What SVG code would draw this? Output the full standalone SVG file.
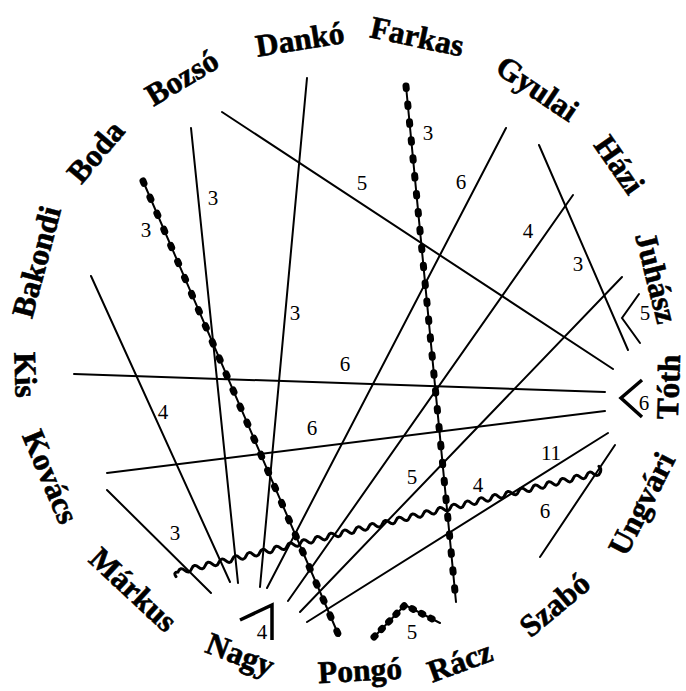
<svg xmlns="http://www.w3.org/2000/svg" width="686" height="691" viewBox="0 0 686 691">
<style>
.name{font-family:"Liberation Serif","Times New Roman",serif;font-weight:bold;font-size:31.5px;fill:#000;stroke:#000;stroke-width:0.6;text-anchor:middle}
.num{font-family:"Liberation Serif","Times New Roman",serif;font-size:21px;fill:#000;text-anchor:middle}
.e{stroke:#000;stroke-width:2;fill:none;stroke-linecap:round}
.b{stroke:#000;stroke-width:7;fill:none;stroke-linecap:round}
.m{stroke:#000;stroke-width:3.5;fill:none;stroke-linejoin:miter}
.w{stroke:#000;stroke-width:3;fill:none;stroke-linecap:round}
</style>
<rect width="686" height="691" fill="#fff"/>
<g id="nodes">
<g id="n-danko"><text class="name" transform="translate(300,40) rotate(-9)" y="10">Dankó</text></g>
<g id="n-farkas"><text class="name" transform="translate(417,37) rotate(12)" y="10">Farkas</text></g>
<g id="n-gyulai"><text class="name" transform="translate(537,89) rotate(34)" y="10">Gyulai</text></g>
<g id="n-hazi"><text class="name" transform="translate(619,165) rotate(55)" y="10">Házi</text></g>
<g id="n-juhasz"><text class="name" transform="translate(656,278) rotate(76)" y="10">Juhász</text></g>
<g id="n-toth"><text class="name" transform="translate(669,387) rotate(-88)" y="10">Tóth</text></g>
<g id="n-ungvari"><text class="name" transform="translate(642,504) rotate(-63)" y="10">Ungvári</text></g>
<g id="n-szabo"><text class="name" transform="translate(555,605) rotate(-40)" y="10">Szabó</text></g>
<g id="n-racz"><text class="name" transform="translate(460,662) rotate(-20)" y="10">Rácz</text></g>
<g id="n-pongo"><text class="name" transform="translate(360,671) rotate(-3)" y="10">Pongó</text></g>
<g id="n-nagy"><text class="name" transform="translate(240,655) rotate(21)" y="10">Nagy</text></g>
<g id="n-markus"><text class="name" transform="translate(133,590) rotate(43)" y="10">Márkus</text></g>
<g id="n-kovacs"><text class="name" transform="translate(50,477) rotate(67)" y="10">Kovács</text></g>
<g id="n-kis"><text class="name" transform="translate(25,375) rotate(88)" y="10">Kis</text></g>
<g id="n-bakondi"><text class="name" transform="translate(37,262) rotate(-75)" y="10">Bakondi</text></g>
<g id="n-boda"><text class="name" transform="translate(96,152) rotate(-50)" y="10">Boda</text></g>
<g id="n-bozso"><text class="name" transform="translate(182,78) rotate(-31)" y="10">Bozsó</text></g>
</g>
<g id="connectors">
<line class="e" x1="222" y1="112" x2="613" y2="369"/>
<line class="e" x1="307" y1="78" x2="260" y2="587"/>
<line class="e" x1="191" y1="128" x2="238" y2="583"/>
<line class="e" x1="143" y1="181" x2="339" y2="636"/>
<line class="b" x1="143" y1="181" x2="339" y2="636" stroke-dasharray="2.5 15"/>
<line class="e" x1="406" y1="86" x2="456" y2="602"/>
<line class="b" x1="406" y1="86" x2="456" y2="602" stroke-dasharray="2.5 15.5"/>
<line class="e" x1="506" y1="128" x2="267" y2="588"/>
<line class="e" x1="573" y1="195" x2="288" y2="601"/>
<line class="e" x1="622" y1="277" x2="300" y2="612"/>
<line class="e" x1="608" y1="433" x2="307" y2="622"/>
<line class="e" x1="615" y1="445" x2="540" y2="557"/>
<line class="e" x1="539" y1="145" x2="628" y2="350"/>
<line class="e" x1="74" y1="374" x2="605" y2="392"/>
<line class="e" x1="107" y1="473" x2="605" y2="411"/>
<line class="e" x1="91" y1="276" x2="230" y2="582"/>
<line class="e" x1="107" y1="490" x2="211" y2="593"/>
<path class="w" transform="translate(178,572) rotate(-13.3)" d="M-3 4 q-2 -5 3 -4 q3.5 -5 7 0 t7 0 t7 0 t7 0 t7 0 t7 0 t7 0 t7 0 t7 0 t7 0 t7 0 t7 0 t7 0 t7 0 t7 0 t7 0 t7 0 t7 0 t7 0 t7 0 t7 0 t7 0 t7 0 t7 0 t7 0 t7 0 t7 0 t7 0 t7 0 t7 0 t7 0 t7 0 t7 0 t7 0 t7 0 t7 0 t7 0 t7 0 t7 0 t7 0 t7 0 t7 0 t7 0 t7 0 t7 0 t7 0 t7 0 t7 0 t7 0 t7 0 t7 0 t7 0 t7 0 t7 0 t7 0 t7 0 t7 0 t7 0 t7 0 t7 0 t7 0 t7 0 q2 -3 0 -6"/>
<polyline class="e" points="374,637 405,605 440,623"/>
<polyline class="b" points="374,637 405,605 440,623" stroke-dasharray="1.5 9"/>
<polyline class="e" points="639,294 622,318 640,343"/>
<polyline class="m" points="642,380 621,398 642,417"/>
<polyline class="m" points="240,620 272,605 272,640"/>
</g>
<g id="labels">
<text class="num" x="362" y="190">5</text>
<text class="num" x="295" y="320">3</text>
<text class="num" x="213" y="205">3</text>
<text class="num" x="146" y="237">3</text>
<text class="num" x="428" y="140">3</text>
<text class="num" x="461" y="189">6</text>
<text class="num" x="528" y="238">4</text>
<text class="num" x="578" y="271">3</text>
<text class="num" x="645" y="320">5</text>
<text class="num" x="644" y="410">6</text>
<text class="num" x="345" y="371">6</text>
<text class="num" x="312" y="435">6</text>
<text class="num" x="163" y="419">4</text>
<text class="num" x="175" y="540">3</text>
<text class="num" x="412" y="484">5</text>
<text class="num" x="478" y="492">4</text>
<text class="num" x="551" y="460">11</text>
<text class="num" x="545" y="518">6</text>
<text class="num" x="412" y="639">5</text>
<text class="num" x="262" y="639">4</text>
</g>
</svg>
